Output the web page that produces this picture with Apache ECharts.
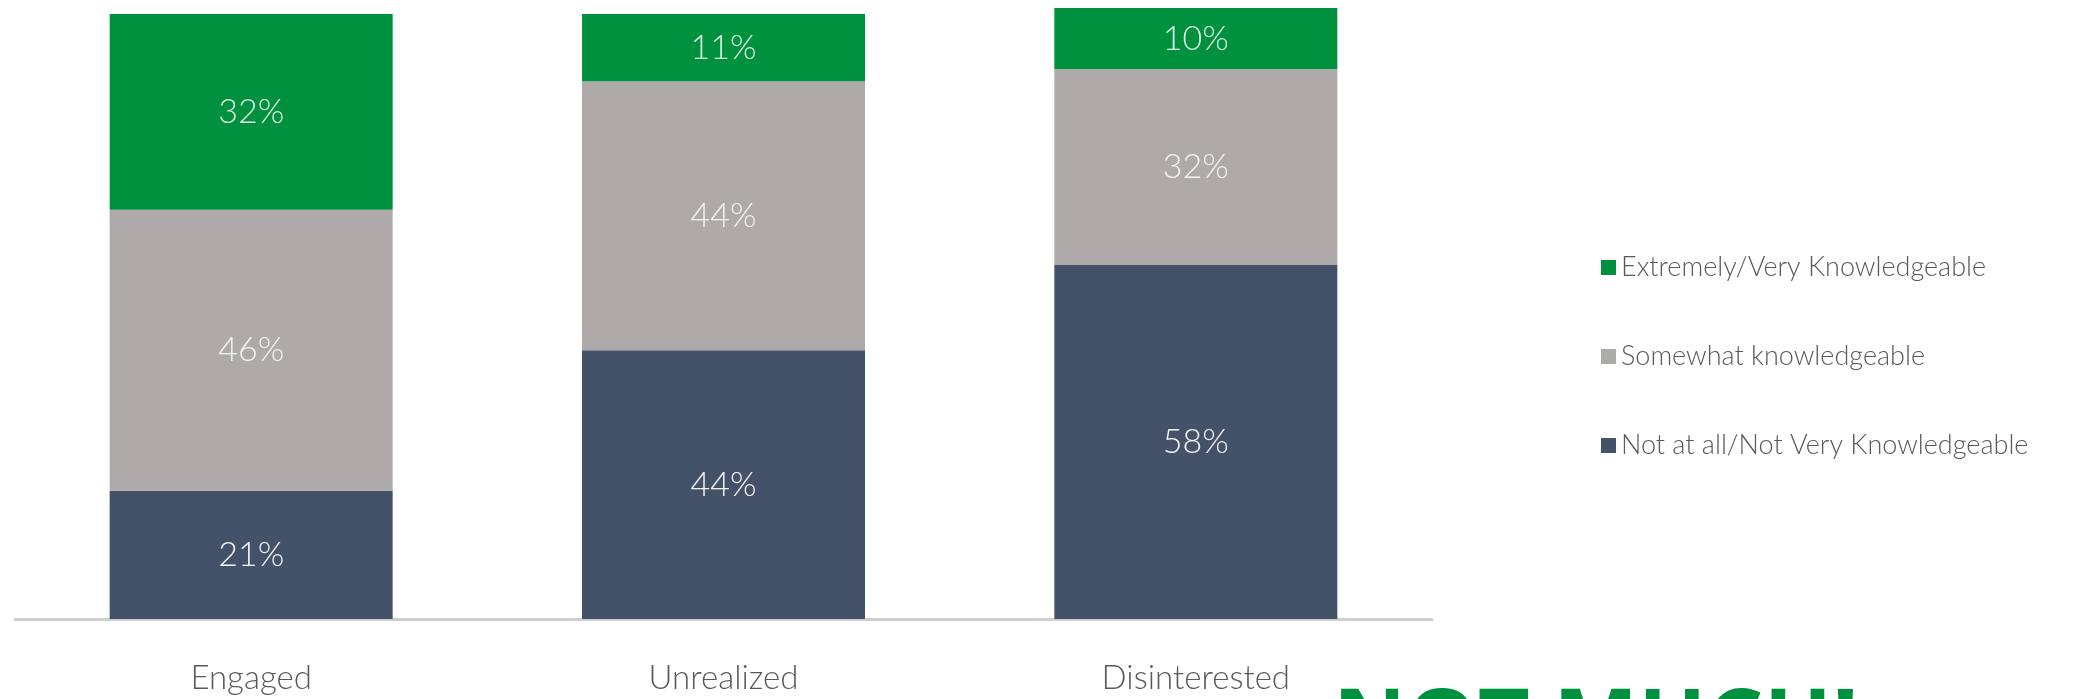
<!DOCTYPE html>
<html>
<head>
<meta charset="utf-8">
<script src="https://cdn.jsdelivr.net/npm/echarts@6/dist/echarts.min.js"></script>
<style>
  html, body { margin: 0; padding: 0; background: #ffffff; }
  #chart { width: 2079px; height: 699px; }
</style>
</head>
<body>
<div id="chart"></div>
<script>
// Segments of knowledge level, by group
const categories = ['Engaged', 'Unrealized', 'Disinterested'];
const seriesNames = ['Not at all/Not Very Knowledgeable', 'Somewhat knowledgeable', 'Extremely/Very Knowledgeable'];
const notKnowledgeable = [21, 44, 58];
const somewhatKnowledgeable = [46, 44, 32];
const veryKnowledgeable = [32, 11, 10];
const legendOrder = ['Extremely/Very Knowledgeable', 'Somewhat knowledgeable', 'Not at all/Not Very Knowledgeable'];
const colors = ['#435269', '#adaaa9', '#00913f'];
const calloutText = 'NOT MUCH!';

const values = [notKnowledgeable, somewhatKnowledgeable, veryKnowledgeable];
const labelFont = 'Lato, "Open Sans", sans-serif';

const chart = echarts.init(document.getElementById('chart'), null, { renderer: 'canvas' });

const series = seriesNames.map((name, i) => ({
  name: name,
  type: 'bar',
  stack: 'total',
  barWidth: 283,
  data: values[i],
  itemStyle: { color: colors[i] },
  label: {
    show: true,
    position: 'inside',
    formatter: '{c}%',
    color: i === 2 ? '#dff2e4' : '#f2f2f2',
    fontFamily: labelFont,
    fontWeight: 300,
    fontSize: 34
  },
  emphasis: { disabled: true }
}));

chart.setOption({
  animation: false,
  backgroundColor: '#ffffff',
  grid: { left: 15, top: 8, width: 1417, bottom: 80, containLabel: false },
  xAxis: {
    type: 'category',
    data: categories,
    axisLine: { show: true, lineStyle: { color: '#cfcfcf', width: 3 } },
    axisTick: { show: false },
    axisLabel: {
      color: '#595959',
      fontFamily: labelFont,
      fontWeight: 300,
      fontSize: 33,
      margin: 43
    }
  },
  yAxis: {
    type: 'value',
    min: 0,
    max: 100,
    show: false,
    splitLine: { show: false }
  },
  legend: {
    orient: 'vertical',
    left: 1601,
    top: 254,
    padding: 0,
    itemWidth: 15,
    itemHeight: 15,
    itemGap: 62,
    icon: 'rect',
    data: legendOrder,
    textStyle: {
      color: '#595959',
      fontFamily: labelFont,
      fontWeight: 300,
      fontSize: 27
    }
  },
  graphic: [{
    type: 'text',
    left: 1333,
    top: 682,
    style: {
      text: calloutText,
      fill: '#00913f',
      font: 'bold 90px "Open Sans", sans-serif'
    }
  }],
  series: series
});
</script>
</body>
</html>
